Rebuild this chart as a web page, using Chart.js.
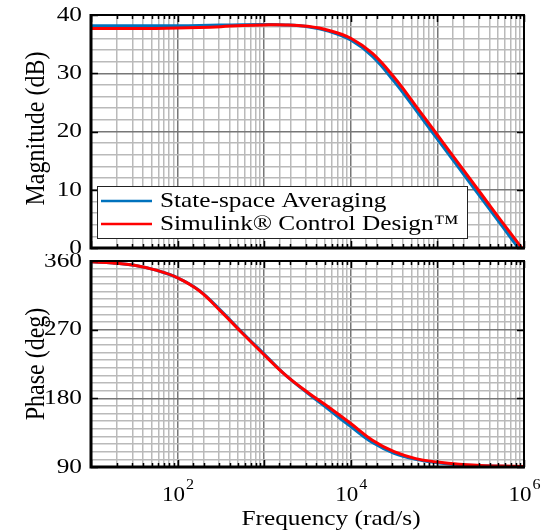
<!DOCTYPE html>
<html>
<head>
<meta charset="utf-8">
<script src="https://cdn.jsdelivr.net/npm/chart.js@4.4.1/dist/chart.umd.min.js"></script>
<style>
  html, body { margin: 0; padding: 0; background: #fff; }
  #wrap { position: relative; width: 545px; height: 531px; }
  canvas { position: absolute; left: 0; }
</style>
</head>
<body>
<div id="wrap">
  <canvas id="magChart" width="545" height="254" style="top:0"></canvas>
  <canvas id="phaseChart" width="545" height="277" style="top:254px"></canvas>
</div>
<script>
// frequencies (rad/s), quarter-decade steps
const freq = [10, 17.78, 31.62, 56.23, 100, 177.8, 316.2, 562.3, 1000, 1778, 3162,
              5623, 10000, 17783, 31623, 56234, 100000, 177828, 316228, 562341, 1000000];

// magnitude (dB)
const magSSA = [38.15, 38.15, 38.15, 38.15, 38.16, 38.2, 38.27, 38.33, 38.35, 38.3, 38.0,
                37.2, 35.7, 32.9, 28.6, 23.7, 18.7, 13.7, 8.7, 3.7, -1.3];
const magSim = [37.7, 37.7, 37.7, 37.7, 37.75, 37.85, 38.0, 38.2, 38.3, 38.3, 38.05,
                37.35, 36.0, 33.4, 29.3, 24.4, 19.4, 14.4, 9.4, 4.4, -0.5];

// phase (deg)
const phaseSSA = [359, 357.5, 354.5, 348, 338, 321.5, 295, 266, 238, 210, 187,
                  165, 143, 122, 108, 100, 95.5, 93, 91.7, 91, 90.6];
const phaseSim = [359, 357.5, 354.5, 348, 338, 321, 294, 265, 237, 210, 188,
                  168, 147, 125, 110, 101, 96.5, 93.5, 92, 91.2, 90.8];

const magTicks = [0, 10, 20, 30, 40];
const phaseTicks = [90, 180, 270, 360];
const freqExpLabels = [2, 4, 6];
const seriesNames = ['State-space Averaging', 'Simulink® Control Design™'];
const seriesColors = ['#0072BD', '#FF0000'];

const FONT = '"Liberation Serif", "Times New Roman", serif';
const SX = 1.15; // text in the picture is a bit wide

function isDecade(v) {
  const l = Math.log10(v);
  return Math.abs(l - Math.round(l)) < 1e-6;
}

function wideText(ctx, text, x, y, size, align, baseline) {
  ctx.save();
  ctx.font = size + 'px ' + FONT;
  ctx.textBaseline = baseline || 'middle';
  const w = ctx.measureText(text).width * SX;
  let x0 = x;
  if (align === 'right') x0 = x - w;
  else if (align === 'center') x0 = x - w / 2;
  ctx.translate(x0, y);
  ctx.scale(SX, 1);
  ctx.fillStyle = '#000';
  ctx.textAlign = 'left';
  ctx.fillText(text, 0, 0);
  ctx.restore();
  return w;
}

function textWidth(ctx, text, size) {
  ctx.save();
  ctx.font = size + 'px ' + FONT;
  const w = ctx.measureText(text).width * SX;
  ctx.restore();
  return w;
}

// frame, inside ticks, labels and legend
const bodePlugin = {
  id: 'bode',
  afterDatasetsDraw(chart, args, opts) {
    const ctx = chart.ctx;
    const a = chart.chartArea;
    const xs = chart.scales.x, ys = chart.scales.y;
    ctx.save();
    ctx.strokeStyle = '#000';
    ctx.lineWidth = 1.5;
    ctx.beginPath();
    xs.ticks.forEach(t => {
      const px = Math.round(xs.getPixelForValue(t.value)) + 0.5;
      const len = isDecade(t.value) ? 7 : 4;
      ctx.moveTo(px, a.bottom); ctx.lineTo(px, a.bottom - len);
      ctx.moveTo(px, a.top); ctx.lineTo(px, a.top + len);
    });
    opts.yLabels.forEach(v => {
      const py = Math.round(ys.getPixelForValue(v)) + 0.5;
      ctx.moveTo(a.left, py); ctx.lineTo(a.left + 7, py);
      ctx.moveTo(a.right, py); ctx.lineTo(a.right - 7, py);
    });
    ctx.stroke();

    ctx.lineWidth = 2;
    ctx.strokeRect(a.left, a.top, a.right - a.left, a.bottom - a.top);
    ctx.lineWidth = 3;
    ctx.beginPath();
    ctx.moveTo(a.left, a.top - 1); ctx.lineTo(a.left, a.bottom);
    ctx.lineTo(a.right + 1, a.bottom);
    ctx.stroke();
    ctx.restore();

    // y tick labels
    opts.yLabels.forEach(v => {
      wideText(ctx, String(v), a.left - 9, ys.getPixelForValue(v), 22, 'right');
    });

    // y title
    ctx.save();
    ctx.translate(37, (a.top + a.bottom) / 2 + opts.titleShift);
    ctx.rotate(-Math.PI / 2);
    ctx.scale(1, SX);
    ctx.font = '24px ' + FONT;
    ctx.fillStyle = '#000';
    ctx.textAlign = 'center';
    ctx.textBaseline = 'middle';
    ctx.fillText(opts.yTitle, 0, 0);
    ctx.restore();

    if (opts.xLabels) {
      freqExpLabels.forEach(e => {
        const px = xs.getPixelForValue(Math.pow(10, e));
        const w1 = textWidth(ctx, '10', 20);
        const w2 = textWidth(ctx, String(e), 14);
        const x0 = px - (w1 + w2) / 2;
        wideText(ctx, '10', x0, a.bottom + 34, 20, 'left', 'alphabetic');
        wideText(ctx, String(e), x0 + w1 + 1, a.bottom + 22, 14, 'left', 'alphabetic');
      });
      wideText(ctx, 'Frequency (rad/s)', 331, a.bottom + 52, 22, 'center');
    }

    if (opts.legend) {
      const lx = 97, ly = 186, lw = 370, lh = 52;
      ctx.save();
      ctx.fillStyle = '#fff';
      ctx.fillRect(lx, ly, lw, lh);
      ctx.strokeStyle = '#222';
      ctx.lineWidth = 1;
      ctx.strokeRect(lx + 0.5, ly + 0.5, lw, lh);
      seriesNames.forEach((name, i) => {
        const y = ly + 15 + i * 23;
        ctx.strokeStyle = seriesColors[i];
        ctx.lineWidth = 2.5;
        ctx.beginPath();
        ctx.moveTo(lx + 4, y); ctx.lineTo(lx + 55, y);
        ctx.stroke();
        wideText(ctx, name, lx + 63, y, 22, 'left');
      });
      ctx.restore();
    }
  }
};

function gridColor(major) {
  return major ? '#777777' : '#bababa';
}

function makeChart(id, ssa, sim, yMin, yMax, step, majorStep, yLabels, yTitle, pad, xHeight, extra) {
  return new Chart(document.getElementById(id), {
    type: 'line',
    data: {
      labels: freq,
      datasets: [
        { label: seriesNames[0], data: ssa, borderColor: seriesColors[0], borderWidth: 3,
          pointRadius: 0, tension: 0.4, order: 2 },
        { label: seriesNames[1], data: sim, borderColor: seriesColors[1], borderWidth: 3,
          pointRadius: 0, tension: 0.4, order: 1 }
      ]
    },
    options: {
      responsive: false,
      animation: false,
      devicePixelRatio: 1,
      layout: { padding: pad },
      plugins: {
        legend: { display: false },
        tooltip: { enabled: false },
        bode: Object.assign({ yLabels: yLabels, yTitle: yTitle }, extra)
      },
      scales: {
        x: {
          type: 'logarithmic',
          min: 10, max: 1e6,
          ticks: { display: false, autoSkip: false },
          grid: {
            drawTicks: false,
            lineWidth: 1.5,
            color: c => gridColor(c.tick && isDecade(c.tick.value))
          },
          border: { display: false },
          afterFit: s => { s.height = xHeight; }
        },
        y: {
          min: yMin, max: yMax,
          ticks: { display: false, stepSize: step, autoSkip: false },
          grid: {
            drawTicks: false,
            lineWidth: 1.5,
            color: c => gridColor(c.tick && Math.abs(c.tick.value % majorStep) < 1e-6)
          },
          border: { display: false },
          afterFit: s => { s.width = 91; }
        }
      }
    },
    plugins: [bodePlugin]
  });
}

makeChart('magChart', magSSA, magSim, 0, 40, 2, 10, magTicks, 'Magnitude (dB)',
  { top: 15, right: 21, left: 0, bottom: 0 }, 6, { legend: true, titleShift: -3 });

makeChart('phaseChart', phaseSSA, phaseSim, 90, 360, 10, 90, phaseTicks, 'Phase (deg)',
  { top: 7, right: 21, left: 0, bottom: 0 }, 64, { xLabels: true, titleShift: 0 });
</script>
</body>
</html>
